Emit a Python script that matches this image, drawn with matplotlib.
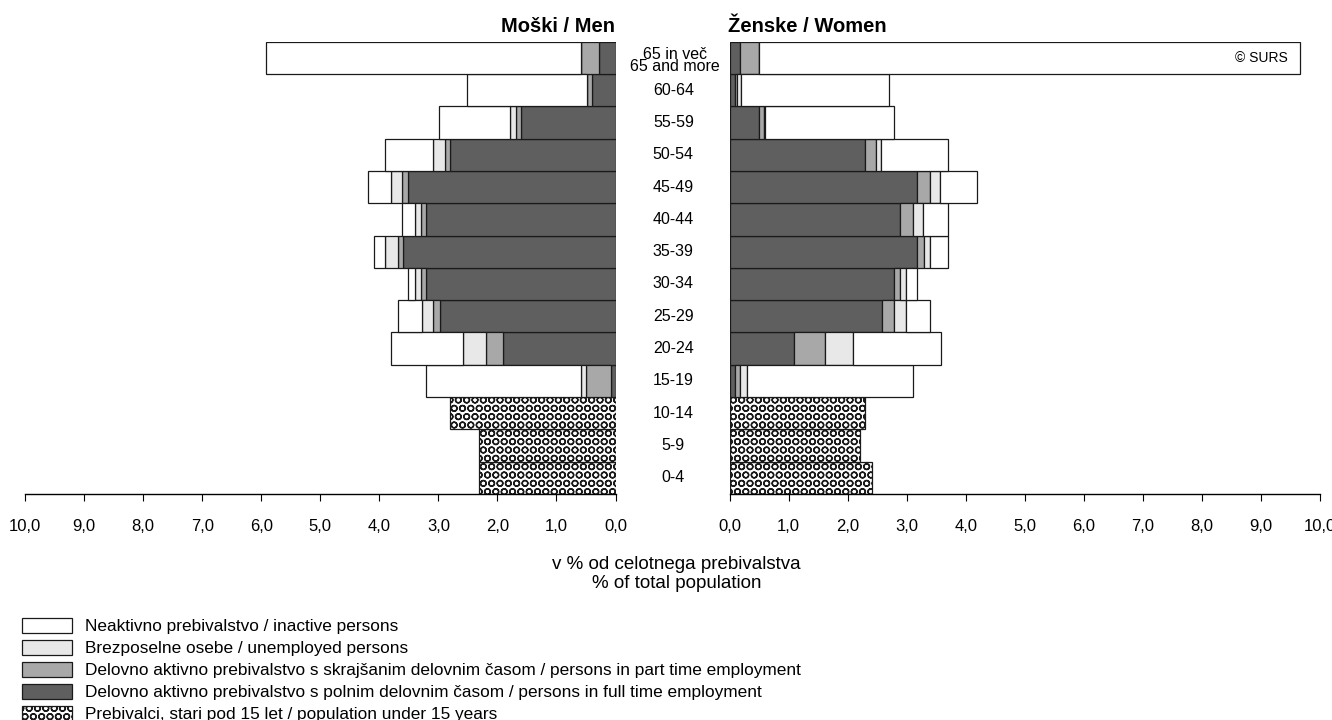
import matplotlib
matplotlib.use('Agg')
import matplotlib.pyplot as plt
from matplotlib.patches import Patch
import numpy as np

plt.rcParams['font.family'] = ['Liberation Sans', 'DejaVu Sans']
plt.rcParams['hatch.linewidth'] = 1.0

ages = ['0-4', '5-9', '10-14', '15-19', '20-24', '25-29', '30-34', '35-39',
        '40-44', '45-49', '50-54', '55-59', '60-64', '65 in več\n65 and more']

# under 15 (0-4, 5-9, 10-14)
men_child = [2.31, 2.31, 2.81]
women_child = [2.41, 2.20, 2.30]

# 15-19 ... 65+
men_full = [0.08, 1.90, 2.98, 3.21, 3.60, 3.21, 3.51, 2.80, 1.60, 0.39, 0.28]
men_part = [0.42, 0.29, 0.11, 0.08, 0.08, 0.08, 0.10, 0.08, 0.09, 0.10, 0.31]
men_unemp = [0.08, 0.40, 0.19, 0.10, 0.22, 0.11, 0.19, 0.21, 0.10, 0.00, 0.00]
men_inact = [2.63, 1.21, 0.41, 0.12, 0.19, 0.21, 0.39, 0.81, 1.20, 2.02, 5.33]

women_full = [0.09, 1.09, 2.58, 2.78, 3.18, 2.89, 3.18, 2.30, 0.50, 0.09, 0.18]
women_part = [0.09, 0.52, 0.20, 0.11, 0.11, 0.21, 0.21, 0.18, 0.08, 0.03, 0.32]
women_unemp = [0.11, 0.48, 0.20, 0.09, 0.11, 0.18, 0.18, 0.09, 0.01, 0.07, 0.00]
women_inact = [2.82, 1.49, 0.42, 0.20, 0.29, 0.41, 0.62, 1.12, 2.20, 2.51, 9.16]

ticks = [0, 1, 2, 3, 4, 5, 6, 7, 8, 9, 10]
tick_labels = ['%d,0' % t for t in ticks]

legend_labels = [
    'Neaktivno prebivalstvo / inactive persons',
    'Brezposelne osebe / unemployed persons',
    'Delovno aktivno prebivalstvo s skrajšanim delovnim časom / persons in part time employment',
    'Delovno aktivno prebivalstvo s polnim delovnim časom / persons in full time employment',
    'Prebivalci, stari pod 15 let / population under 15 years',
]

c_inact = 'white'
c_unemp = '#e8e8e8'
c_part = '#a8a8a8'
c_full = '#5f5f5f'
edge = '#1a1a1a'
lw = 0.9
child_hatch = 'OO'

fig = plt.figure(figsize=(13.32, 7.2), dpi=100)
ax_m = fig.add_axes([0.0188, 0.3139, 0.4433, 0.6282])
ax_w = fig.add_axes([0.5478, 0.3139, 0.4433, 0.6282])


def draw(ax, child, full, part, unemp, inact):
    y_child = np.arange(3)
    ax.barh(y_child, child, height=1.0, color='white', edgecolor=edge,
            linewidth=lw, hatch=child_hatch)
    y = np.arange(3, 14)
    left = np.zeros(len(y))
    for vals, col in [(full, c_full), (part, c_part), (unemp, c_unemp), (inact, c_inact)]:
        vals = np.array(vals)
        ax.barh(y, vals, left=left, height=1.0, color=col, edgecolor=edge, linewidth=lw)
        left += vals
    ax.set_ylim(-0.5, 13.5)
    ax.set_yticks([])
    for s in ['top', 'left', 'right']:
        ax.spines[s].set_visible(False)
    ax.spines['bottom'].set_linewidth(1.0)
    ax.set_xticks(ticks)
    ax.set_xticklabels(tick_labels, fontsize=12)
    ax.tick_params(axis='x', direction='out', length=5, width=0.8, pad=13)


draw(ax_m, men_child, men_full, men_part, men_unemp, men_inact)
draw(ax_w, women_child, women_full, women_part, women_unemp, women_inact)
ax_m.set_xlim(10, 0)
ax_w.set_xlim(0, 10)

fig.text(0.4616, 0.9556, 'Moški / Men', ha='right', va='baseline', fontsize=14.5, fontweight='bold')
fig.text(0.5465, 0.9556, 'Ženske / Women', ha='left', va='baseline', fontsize=14.5, fontweight='bold')

# age labels between the panels
for i, a in enumerate(ages):
    yf = 0.3139 + 0.6282 * (i + 0.5) / 14
    if '\n' in a:
        fig.text(0.507, yf - 0.003, a, ha='center', va='center', fontsize=11.5, linespacing=0.75)
    else:
        fig.text(0.5055, yf, a, ha='center', va='center', fontsize=11.5)

fig.text(0.508, 0.2028, 'v % od celotnega prebivalstva\n% of total population',
         ha='center', va='center', fontsize=13.5, linespacing=1.2)

ax_w.text(9.45, 13, '© SURS', ha='right', va='center', fontsize=10)

handles = [
    Patch(facecolor=c_inact, edgecolor=edge, linewidth=lw),
    Patch(facecolor=c_unemp, edgecolor=edge, linewidth=lw),
    Patch(facecolor=c_part, edgecolor=edge, linewidth=lw),
    Patch(facecolor=c_full, edgecolor=edge, linewidth=lw),
    Patch(facecolor='white', edgecolor=edge, linewidth=lw, hatch=child_hatch),
]
fig.legend(handles, legend_labels, loc='lower left', bbox_to_anchor=(0.0165, -0.003),
           frameon=False, fontsize=12.4, handlelength=2.9, handleheight=0.95,
           labelspacing=0.33, handletextpad=0.75, borderpad=0.0, borderaxespad=0.0)

fig.savefig('out.png', dpi=100)
